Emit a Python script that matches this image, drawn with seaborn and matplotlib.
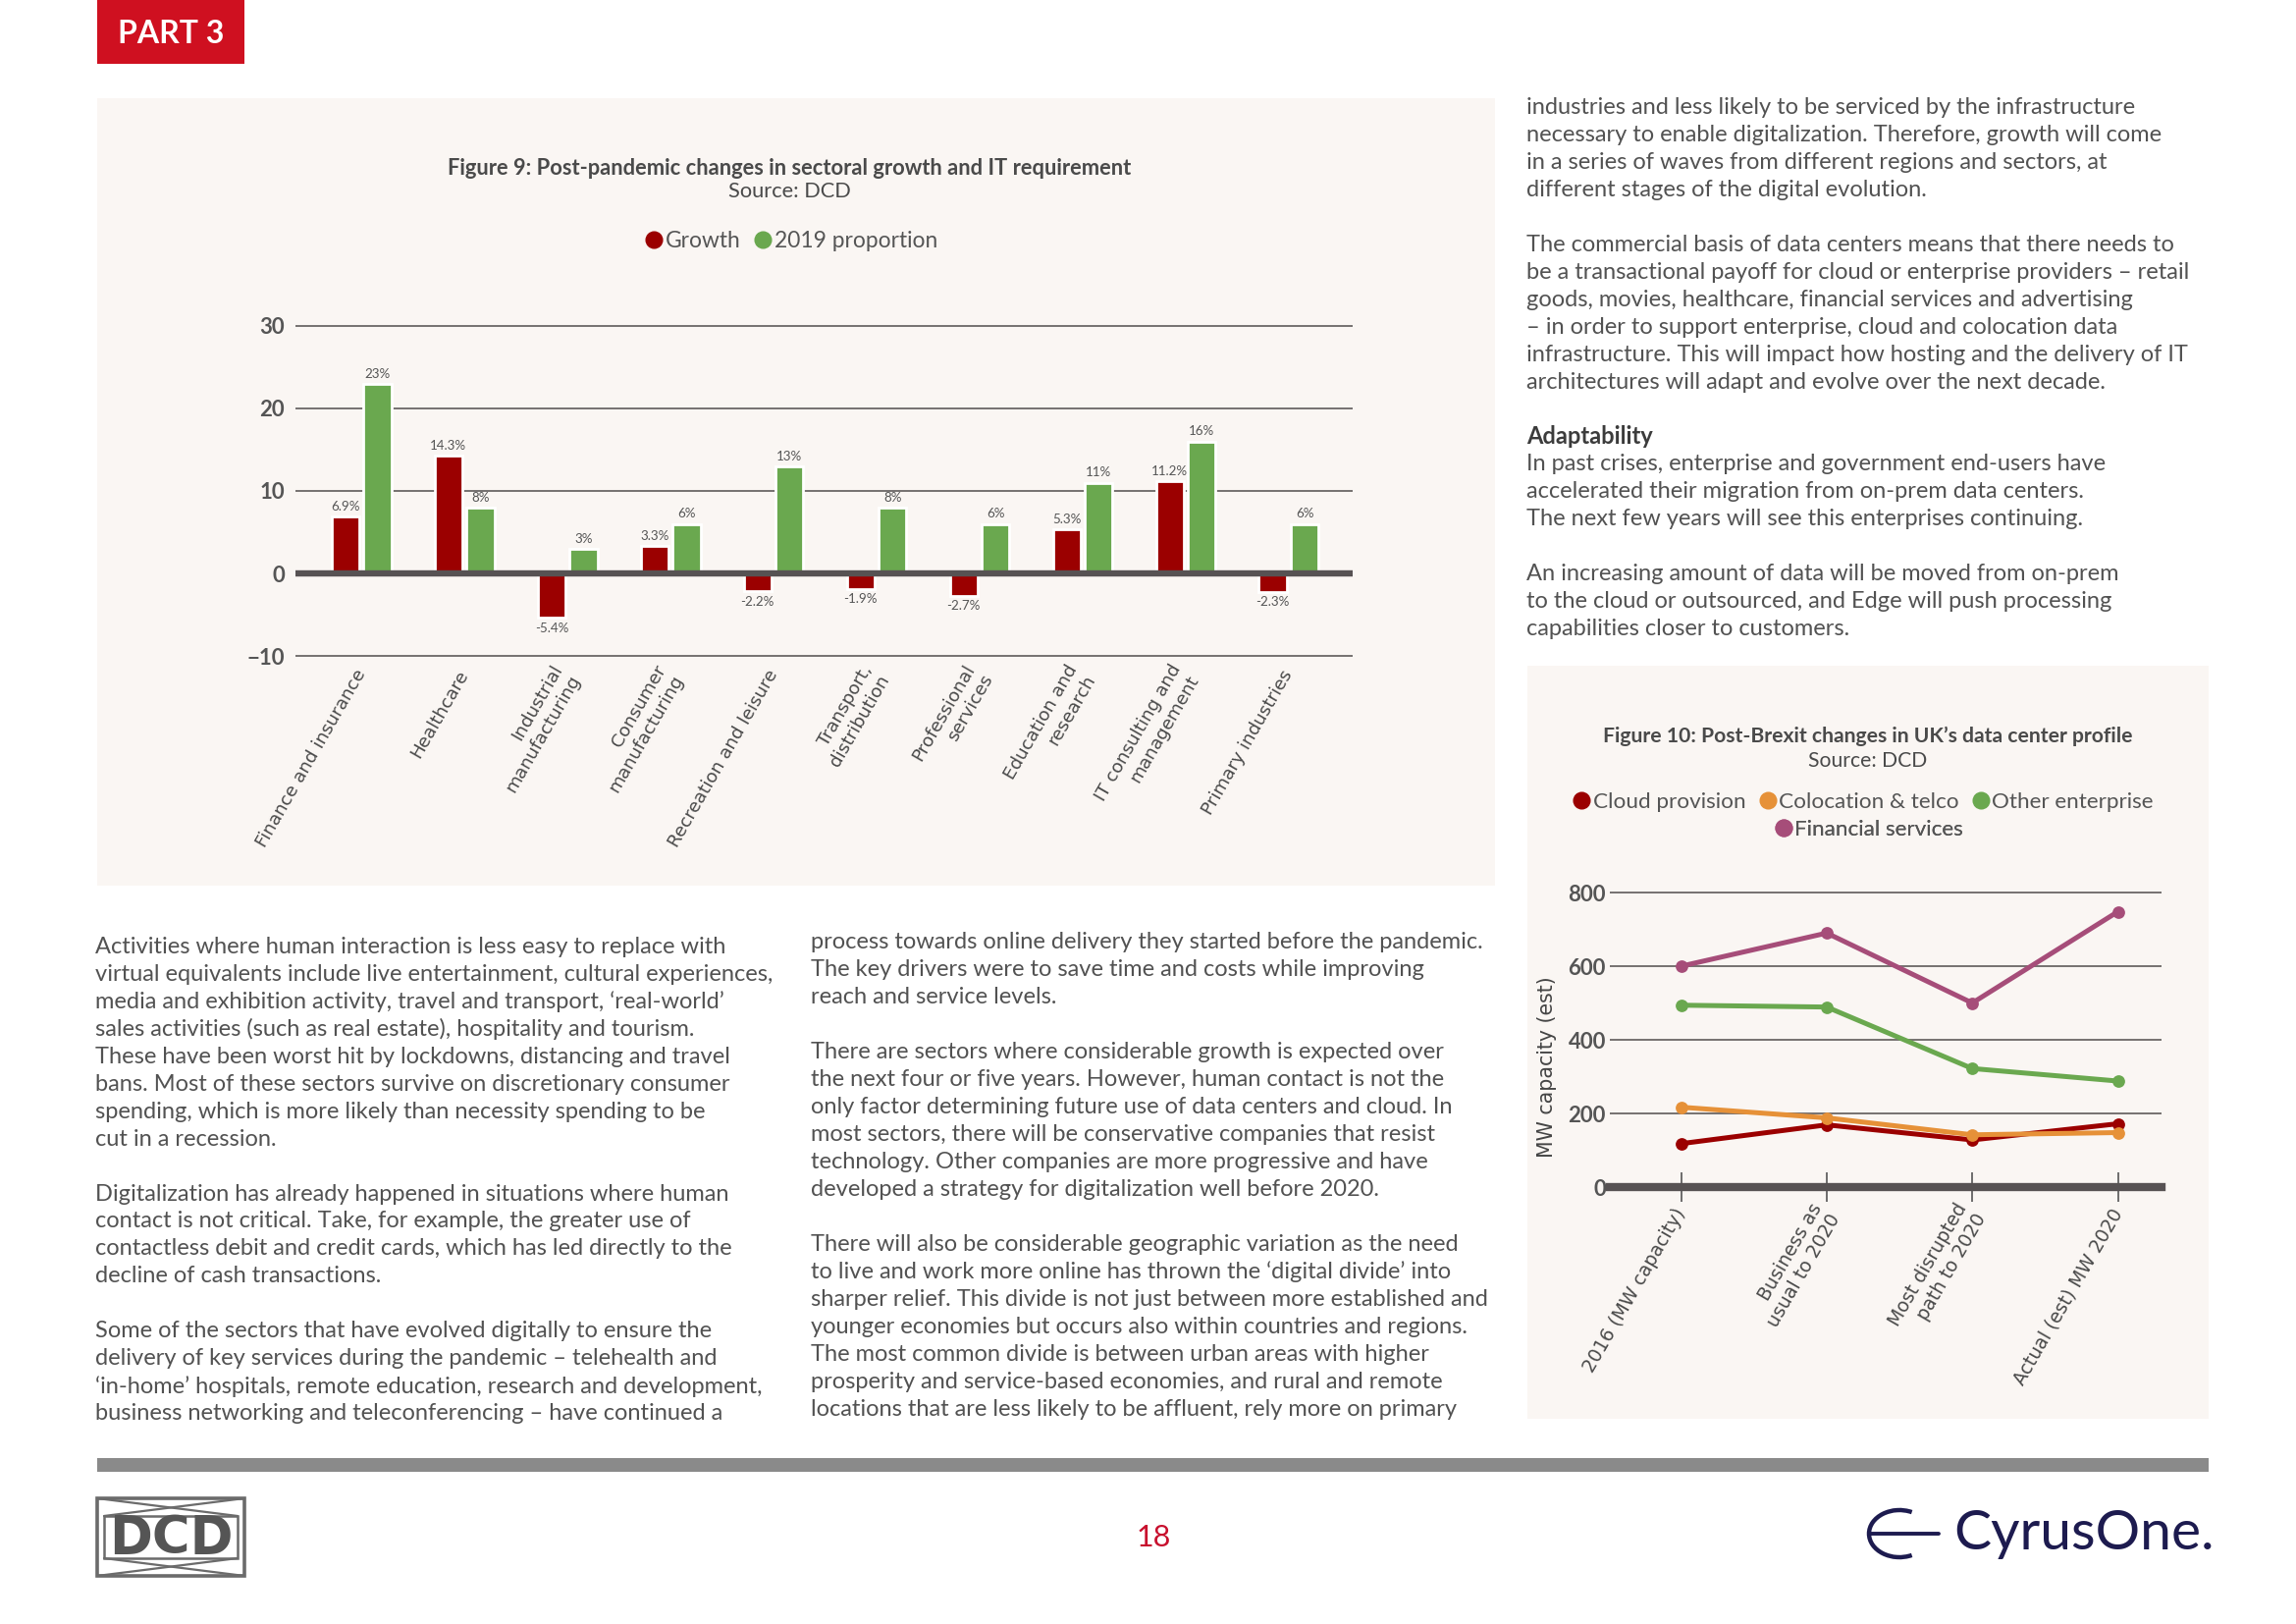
import numpy as np
import pandas as pd
import matplotlib
matplotlib.use("Agg")
import matplotlib.pyplot as plt
import seaborn as sns
from matplotlib.patches import Rectangle, Arc
from matplotlib.lines import Line2D

# ---------------- data ----------------
sectors = ["Finance and insurance", "Healthcare", "Industrial\nmanufacturing",
           "Consumer\nmanufacturing", "Recreation and leisure", "Transport,\ndistribution",
           "Professional\nservices", "Education and\nresearch", "IT consulting and\nmanagement",
           "Primary industries"]
growth = [6.9, 14.3, -5.4, 3.3, -2.2, -1.9, -2.7, 5.3, 11.2, -2.3]
proportion_2019 = [23, 8, 3, 6, 13, 8, 6, 11, 16, 6]
fig9_series = ["Growth", "2019 proportion"]
fig9_yticks = [-10, 0, 10, 20, 30]
fig9_title = "Figure 9: Post-pandemic changes in sectoral growth and IT requirement"

scenarios = ["2016 (MW capacity)", "Business as\nusual to 2020", "Most disrupted\npath to 2020",
             "Actual (est) MW 2020"]
cloud_provision = [118, 169, 128, 172]
colocation_telco = [217, 188, 142, 148]
other_enterprise = [494, 489, 322, 288]
financial_services = [600, 690, 500, 748]
fig10_series = ["Cloud provision", "Colocation & telco", "Other enterprise", "Financial services"]
fig10_yticks = [0, 200, 400, 600, 800]
fig10_title = "Figure 10: Post-Brexit changes in UK\u2019s data center profile"
fig10_ylabel = "MW capacity (est)"

left_text = [
    "Activities where human interaction is less easy to replace with",
    "virtual equivalents include live entertainment, cultural experiences,",
    "media and exhibition activity, travel and transport, \u2018real-world\u2019",
    "sales activities (such as real estate), hospitality and tourism.",
    "These have been worst hit by lockdowns, distancing and travel",
    "bans. Most of these sectors survive on discretionary consumer",
    "spending, which is more likely than necessity spending to be",
    "cut in a recession.",
    "",
    "Digitalization has already happened in situations where human",
    "contact is not critical. Take, for example, the greater use of",
    "contactless debit and credit cards, which has led directly to the",
    "decline of cash transactions.",
    "",
    "Some of the sectors that have evolved digitally to ensure the",
    "delivery of key services during the pandemic \u2013 telehealth and",
    "\u2018in-home\u2019 hospitals, remote education, research and development,",
    "business networking and teleconferencing \u2013 have continued a",
]
middle_text = [
    "process towards online delivery they started before the pandemic.",
    "The key drivers were to save time and costs while improving",
    "reach and service levels.",
    "",
    "There are sectors where considerable growth is expected over",
    "the next four or five years. However, human contact is not the",
    "only factor determining future use of data centers and cloud. In",
    "most sectors, there will be conservative companies that resist",
    "technology. Other companies are more progressive and have",
    "developed a strategy for digitalization well before 2020.",
    "",
    "There will also be considerable geographic variation as the need",
    "to live and work more online has thrown the \u2018digital divide\u2019 into",
    "sharper relief. This divide is not just between more established and",
    "younger economies but occurs also within countries and regions.",
    "The most common divide is between urban areas with higher",
    "prosperity and service-based economies, and rural and remote",
    "locations that are less likely to be affluent, rely more on primary",
]
right_text = [
    "industries and less likely to be serviced by the infrastructure",
    "necessary to enable digitalization. Therefore, growth will come",
    "in a series of waves from different regions and sectors, at",
    "different stages of the digital evolution.",
    "",
    "The commercial basis of data centers means that there needs to",
    "be a transactional payoff for cloud or enterprise providers \u2013 retail",
    "goods, movies, healthcare, financial services and advertising",
    "\u2013 in order to support enterprise, cloud and colocation data",
    "infrastructure. This will impact how hosting and the delivery of IT",
    "architectures will adapt and evolve over the next decade.",
    "",
    "**Adaptability",
    "In past crises, enterprise and government end-users have",
    "accelerated their migration from on-prem data centers.",
    "The next few years will see this enterprises continuing.",
    "",
    "An increasing amount of data will be moved from on-prem",
    "to the cloud or outsourced, and Edge will push processing",
    "capabilities closer to customers.",
]

# ---------------- style ----------------
RED = "#9b0000"
GREEN = "#6aa84f"
ORANGE = "#e69138"
PURPLE = "#a64d79"
PANEL = "#faf6f3"
TXT = "#525252"
AX = "#575253"
LAB = "#555555"

W, H, DPI = 2339, 1654, 200
sns.set_theme(style="white")
plt.rcParams["font.family"] = ["Lato", "DejaVu Sans"]

fig = plt.figure(figsize=(W / DPI, H / DPI), dpi=DPI, facecolor="white")
bg = fig.add_axes([0, 0, 1, 1], zorder=0)
bg.set_xlim(0, W)
bg.set_ylim(H, 0)
bg.axis("off")


def px_axes(left, top, right, bottom, z=2):
    a = fig.add_axes([left / W, 1 - bottom / H, (right - left) / W, (bottom - top) / H], zorder=z)
    a.set_facecolor("none")
    return a


# page furniture
bg.add_patch(Rectangle((99, 0), 150, 65, color="#cf1020", lw=0))
bg.text(174, 34, "PART 3", color="white", fontsize=11.5, weight="bold", ha="center", va="center")
bg.add_patch(Rectangle((99, 100), 1424, 802, color=PANEL, lw=0))
bg.add_patch(Rectangle((1556, 678), 694, 767, color=PANEL, lw=0))
bg.add_patch(Rectangle((99, 1485), 2151, 14, color="#8a8a8a", lw=0))
bg.text(1175, 1566, "18", color="#c8102e", fontsize=11, ha="center", va="center")

# DCD logo
lc = "#6b6b6b"
bg.add_patch(Rectangle((99, 1526), 150, 79, fill=False, ec=lc, lw=1.3))
bg.add_patch(Rectangle((106, 1544), 136, 43, fill=False, ec=lc, lw=0.9))
for (x0, y0, x1, y1) in [(99, 1526, 242, 1544), (249, 1526, 106, 1544),
                         (99, 1605, 242, 1587), (249, 1605, 106, 1587)]:
    bg.plot([x0, x1], [y0, y1], color=lc, lw=0.8)
bg.text(174, 1567, "DCD", color="#555555", fontsize=19, weight="bold", ha="center", va="center",
        family=["Liberation Sans Narrow", "DejaVu Sans"])

# CyrusOne logo
navy = "#1d1b4f"
bg.add_patch(Arc((1935, 1562), 62, 48, theta1=60, theta2=300, color=navy, lw=1.6))
bg.plot([1906, 1975], [1562, 1562], color=navy, lw=1.4)
bg.text(1990, 1563, "CyrusOne.", color=navy, fontsize=20.5, ha="left", va="center")


# body text
def column(lines, x, y0, step=27.95):
    for i, s in enumerate(lines):
        if not s:
            continue
        if s.startswith("**"):
            bg.text(x, y0 + i * step, s[2:], fontsize=8.5, weight="bold", color="#3c3c3c",
                    ha="left", va="center")
        else:
            bg.text(x, y0 + i * step, s, fontsize=8.5, weight="normal", color=TXT, ha="left", va="center")


column(left_text, 97, 964.5)
column(middle_text, 826, 960)
column(right_text, 1555, 109.5)

# ---------------- Figure 9 ----------------
bg.text(804, 171, fig9_title, fontsize=7.9, weight="bold", color="#4a4a4a", ha="center", va="center")
bg.text(804, 195, "Source: DCD", fontsize=7.9, color="#4a4a4a", ha="center", va="center")
h9 = [Line2D([], [], marker="o", ls="", color=c, markersize=5.5) for c in (RED, GREEN)]
leg9 = bg.legend(h9, fig9_series, loc="center", bbox_to_anchor=(805, 245), bbox_transform=bg.transData,
                 ncol=2, frameon=False, handletextpad=0.0, columnspacing=0.5, handlelength=1.0,
                 prop={"size": 8.2}, labelcolor=LAB)
bg.add_artist(leg9)

ax9 = px_axes(301, 330.3, 1378, 669.7)
df9 = pd.DataFrame({
    "sector": sectors * 2,
    "series": [fig9_series[0]] * len(sectors) + [fig9_series[1]] * len(sectors),
    "value": growth + proportion_2019,
})
sns.barplot(data=df9, x="sector", y="value", hue="series", hue_order=fig9_series,
            palette=[RED, GREEN], width=0.62, gap=0.13, saturation=1, errorbar=None,
            legend=False, ax=ax9, zorder=2)
ax9.set_xlim(-0.64, 9.62)
ax9.set_ylim(-10.2, 30.2)
ax9.set_yticks(fig9_yticks)
ax9.yaxis.grid(True, color="#5e5a5a", lw=0.6)
ax9.xaxis.grid(False)
ax9.set_axisbelow(True)
ax9.axhline(0, color=AX, lw=2.3, zorder=3)
for sp in ax9.spines.values():
    sp.set_visible(False)
ax9.set_xlabel("")
ax9.set_ylabel("")
ax9.tick_params(axis="y", length=0, pad=4, labelsize=8, labelcolor=LAB)
for t in ax9.get_yticklabels():
    t.set_fontweight("bold")
ax9.set_xticks(range(len(sectors)))
ax9.set_xticklabels(sectors, rotation=60, ha="right", va="center", rotation_mode="anchor",
                    fontsize=6.6, family="DejaVu Sans", color="#4a4a4a")
ax9.tick_params(axis="x", length=0, pad=5)
for cont, vals, fmt in zip(ax9.containers, [growth, proportion_2019], ["{:.1f}%", "{:.0f}%"]):
    ax9.bar_label(cont, labels=[fmt.format(v) for v in vals], padding=1.5, fontsize=4.8,
                  color=LAB)

# ---------------- Figure 10 ----------------
bg.text(1903, 750, fig10_title, fontsize=7.6, weight="bold", color="#4a4a4a", ha="center", va="center")
bg.text(1903, 775, "Source: DCD", fontsize=7.6, color="#4a4a4a", ha="center", va="center")
pal10 = dict(zip(fig10_series, [RED, ORANGE, GREEN, PURPLE]))
h10 = [Line2D([], [], marker="o", ls="", color=pal10[s], markersize=5.5) for s in fig10_series]
leg10a = bg.legend(h10[:3], fig10_series[:3], loc="center", bbox_to_anchor=(1897, 817),
                   bbox_transform=bg.transData, ncol=3, frameon=False, handletextpad=0.0,
                   columnspacing=0.5, handlelength=1.0, prop={"size": 8.1}, labelcolor=LAB)
bg.add_artist(leg10a)
leg10b = bg.legend(h10[3:], fig10_series[3:], loc="center", bbox_to_anchor=(1903, 845),
                   bbox_transform=bg.transData, ncol=1, frameon=False, handletextpad=0.0,
                   handlelength=1.0, prop={"size": 8.1}, labelcolor=LAB)
bg.add_artist(leg10b)

ax10 = px_axes(1640, 903.4, 2202, 1209)
df10 = pd.DataFrame({
    "scenario": scenarios * 4,
    "series": sum([[s] * len(scenarios) for s in fig10_series], []),
    "value": cloud_provision + colocation_telco + other_enterprise + financial_services,
})
sns.lineplot(data=df10, x="scenario", y="value", hue="series", hue_order=fig10_series,
             palette=pal10, marker="o", markersize=4.6, markeredgewidth=0, linewidth=1.8,
             sort=False, legend=False, ax=ax10)
ax10.set_xlim(-0.49, 3.3)
ax10.set_ylim(0, 815)
ax10.set_yticks(fig10_yticks)
ax10.yaxis.grid(True, color="#5e5a5a", lw=0.6)
ax10.xaxis.grid(False)
ax10.set_axisbelow(True)
for k in ("left", "right", "top"):
    ax10.spines[k].set_visible(False)
ax10.spines["bottom"].set_color(AX)
ax10.spines["bottom"].set_linewidth(3.0)
ax10.set_xlabel("")
ax10.set_ylabel(fig10_ylabel, fontsize=7.4, family="DejaVu Sans", color="#444444")
ax10.yaxis.set_label_coords(-0.096, 0.40)
ax10.tick_params(axis="y", length=0, pad=1.5, labelsize=8, labelcolor=LAB)
for t in ax10.get_yticklabels():
    t.set_fontweight("bold")
ax10.set_xticks(range(len(scenarios)))
ax10.set_xticklabels(scenarios, rotation=60, ha="right", va="center", rotation_mode="anchor",
                     fontsize=6.8, family="DejaVu Sans", color="#4a4a4a")
ax10.tick_params(axis="x", direction="inout", length=10.8, width=0.6, color=LAB, pad=3,
                 bottom=True)

fig.savefig("out.png", dpi=DPI, facecolor="white")
